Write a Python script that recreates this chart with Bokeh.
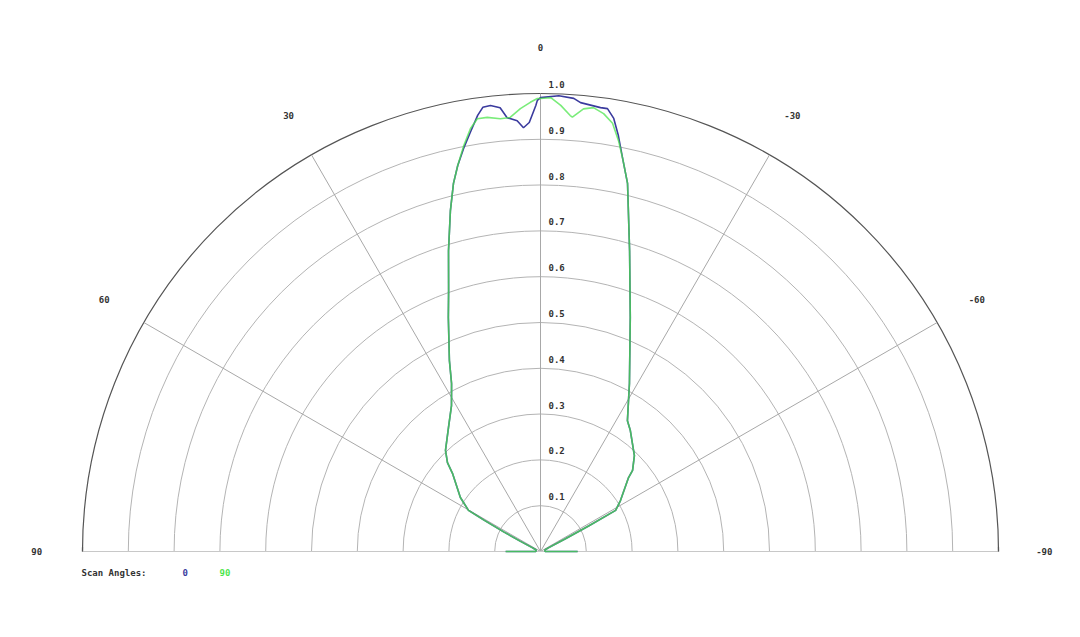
import numpy as np
from bokeh.plotting import figure
from bokeh.core.properties import value
from bokeh.embed import file_html
from bokeh.resources import INLINE

# ---- data (angle in degrees, 0 = up, positive to the left; r normalised) ----
scan0_angle = [-90, -89, -80, -70, -65, -63, -62, -61.3, -57.5, -50, -48.6, -44.4,
               -36.6, -33.6, -27.9, -21.0, -16.5, -13.3, -11.8, -10.6, -9.6, -8.6,
               -7.7, -5.1, -4.2, -2.3, 0, 0.4, 0.6, 1.5, 2.3, 3.1, 4.4, 5.2, 6.4,
               7.4, 8.2, 9.5, 10.8, 12.1, 13.3, 14.8, 17.0, 19.4, 21.5, 25.5, 27.9,
               31.4, 36.6, 43.2, 46.3, 48.4, 56.0, 60.3, 61, 62, 63, 65, 70, 80, 89, 90]
scan0_r = [0.081, 0.01, 0.01, 0.01, 0.02, 0.06, 0.12, 0.187, 0.207, 0.251, 0.268, 0.293,
           0.329, 0.343, 0.415, 0.547, 0.685, 0.826, 0.877, 0.924, 0.959, 0.978,
           0.978, 0.984, 0.992, 0.996, 0.991, 0.985, 0.974, 0.937, 0.926, 0.942, 0.950, 0.973, 0.980,
           0.978, 0.962, 0.928, 0.896, 0.862, 0.826, 0.770, 0.687, 0.604, 0.549, 0.462, 0.415,
           0.373, 0.337, 0.303, 0.281, 0.257, 0.211, 0.181, 0.14, 0.09, 0.05, 0.02, 0.01, 0.01, 0.01, 0.076]

scan90_angle = [-90, -89, -80, -70, -65, -63, -62, -61.3, -57.5, -50, -48.6, -44.4,
                -36.6, -33.6, -27.9, -21.0, -16.5, -13.3, -11.8, -10.75, -9.55, -8.2,
                -6.8, -5.55, -4.2, -3.9, -2.6, -1.3, 0, 0.4, 1.3, 2.6, 4.0, 5.3, 7.0,
                8.3, 9.4, 10.7, 12.1, 13.3, 14.8, 17.0, 19.4, 21.5, 25.5, 27.9,
                31.4, 36.6, 43.2, 46.3, 48.4, 56.0, 60.3, 61, 62, 63, 65, 70, 80, 89, 90]
scan90_r = [0.081, 0.01, 0.01, 0.01, 0.02, 0.06, 0.12, 0.187, 0.207, 0.251, 0.268, 0.293,
            0.329, 0.343, 0.415, 0.547, 0.685, 0.826, 0.877, 0.913, 0.948, 0.966,
            0.976, 0.971, 0.951, 0.954, 0.975, 0.991, 0.989, 0.989, 0.981, 0.968, 0.950, 0.949, 0.955,
            0.955, 0.936, 0.902, 0.862, 0.826, 0.770, 0.687, 0.604, 0.549, 0.462, 0.415,
            0.373, 0.337, 0.303, 0.281, 0.257, 0.211, 0.181, 0.14, 0.09, 0.05, 0.02, 0.01, 0.01, 0.01, 0.076]

ring_values = [0.1, 0.2, 0.3, 0.4, 0.5, 0.6, 0.7, 0.8, 0.9, 1.0]
ring_labels = ["0.1", "0.2", "0.3", "0.4", "0.5", "0.6", "0.7", "0.8", "0.9", "1.0"]
spoke_angles = [-60, -30, 0, 30, 60]
angle_label_values = [90, 60, 30, 0, -30, -60, -90]
angle_label_texts = ["90", "60", "30", "0", "-30", "-60", "-90"]
legend_names = ["0", "90"]
series_colors = ["#3b3b9e", "#4ee64e"]

# ---- layout ----
W, H = 1064, 621
PX = 458.0             # pixels per unit radius
CX, CY = 540.0, 551.0  # centre in figure pixels (from top-left)
x_range = (-CX / PX, (W - CX) / PX)
y_range = (-(H - CY) / PX, CY / PX)

p = figure(width=W, height=H, x_range=x_range, y_range=y_range,
           output_backend="svg", toolbar_location=None, min_border=0)
p.axis.visible = False
p.grid.visible = False
p.outline_line_color = None
p.background_fill_color = "white"

def to_xy(ang_deg, r):
    a = np.radians(np.asarray(ang_deg, dtype=float))
    r = np.asarray(r, dtype=float)
    return -r * np.sin(a), r * np.cos(a)

# grid rings
inner = ring_values[:-1]
p.arc(x=0, y=0, radius=inner, start_angle=0, end_angle=np.pi,
      line_color="#b4b4b4", line_width=1)
p.arc(x=0, y=0, radius=ring_values[-1], start_angle=0, end_angle=np.pi,
      line_color="#555555", line_width=1.2)

# spokes
sx, sy = to_xy(spoke_angles, [1.0] * len(spoke_angles))
p.segment(x0=0, y0=0, x1=sx, y1=sy, line_color="#a8a8a8", line_width=1)
p.segment(x0=-1, y0=0, x1=1, y1=0, line_color="#c8c8c8", line_width=1)
p.segment(x0=[-1, 1], y0=[0, 0], x1=[-1, 1], y1=[0.01, 0.01], line_color="#555555", line_width=1.2)

# ring labels
font = value("DejaVu Sans Mono")
p.text(x=[8 / PX] * len(ring_values), y=[v + 9 / PX for v in ring_values], text=ring_labels,
       text_font=font, text_font_style="bold", text_font_size="9px",
       text_color="#333333", text_align="left", text_baseline="middle")

# angle labels
lx, ly = to_xy(angle_label_values, [1.1] * len(angle_label_values))
p.text(x=lx, y=ly, text=angle_label_texts,
       text_font=font, text_font_style="bold", text_font_size="9px",
       text_color="#333333", text_align="center", text_baseline="middle")

# curves
bx, by = to_xy(scan0_angle, scan0_r)
gx, gy = to_xy(scan90_angle, scan90_r)
p.line(bx, by, line_color=series_colors[0], line_width=1.6)
p.line(gx, gy, line_color=series_colors[1], line_width=1.6, line_alpha=0.75)

# legend text
ly0 = -21 / PX
p.text(x=[-459 / PX], y=[ly0], text=["Scan Angles:"], text_font=font, text_font_style="bold",
       text_font_size="9px", text_color="#333333", text_align="left", text_baseline="middle")
p.text(x=[-358 / PX, -321 / PX], y=[ly0, ly0], text=legend_names, text_font=font,
       text_font_style="bold", text_font_size="9px", text_color=series_colors,
       text_align="left", text_baseline="middle")

open("out.html", "w").write(file_html(p, INLINE))
